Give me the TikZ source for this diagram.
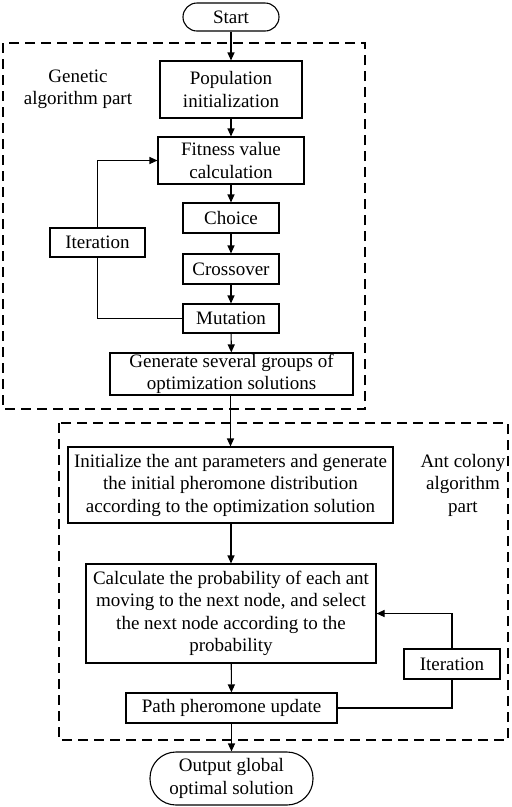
\documentclass[tikz,border=0pt]{standalone}
\usepackage{fontspec}
\setmainfont{Liberation Serif}
\usetikzlibrary{arrows.meta}
\begin{document}
\begin{tikzpicture}[x=1pt,y=-1pt,
  every node/.style={font=\fontsize{19}{22.5}\selectfont},
  box/.style={draw,line width=1.1pt,inner sep=0pt,align=center},
  pill/.style={box},
  frame/.style={draw,line width=1.1pt,dash pattern=on 10pt off 6pt},
  lbl/.style={align=center,inner sep=0pt},
  conn/.style={line width=1.1pt},
  arr/.style={conn,-{Triangle[length=8pt,width=7pt]}}]
\useasboundingbox (0,0) rectangle (512,807);
\draw[frame] (3,43) rectangle (365,409);
\draw[frame] (59,423) rectangle (508,740);
\node[pill,minimum width=96pt,minimum height=28pt,rounded corners=14pt] (start) at (231,17) {Start};
\node[box,minimum width=142pt,minimum height=57pt] (pop) at (231,89.5) {Population\\initialization};
\node[box,minimum width=146pt,minimum height=47pt] (fit) at (231,160.5) {Fitness value\\calculation};
\node[box,minimum width=96pt,minimum height=30pt] (choice) at (231,218) {Choice};
\node[box,minimum width=95pt,minimum height=29pt] (iterA) at (97.5,242.5) {Iteration};
\node[box,minimum width=96pt,minimum height=30pt] (cross) at (231,269) {Crossover};
\node[box,minimum width=96pt,minimum height=29pt] (mut) at (231,318.5) {Mutation};
\node[box,minimum width=243pt,minimum height=42pt] (gen) at (231.5,374) {Generate several groups of\\optimization solutions};
\node[lbl] (ga) at (78,89.5) {Genetic\\algorithm part};
\node[box,minimum width=325pt,minimum height=76pt] (init) at (230.5,485) {Initialize the ant parameters and generate\\the initial pheromone distribution\\according to the optimization solution};
\node[lbl] (ac) at (463,485) {Ant colony\\algorithm\\part};
\node[box,minimum width=290pt,minimum height=99pt] (calc) at (231,613.5) {Calculate the probability of each ant\\moving to the next node, and select\\the next node according to the\\probability};
\node[box,minimum width=211pt,minimum height=30pt] (path) at (231.5,708) {Path pheromone update};
\node[box,minimum width=96pt,minimum height=30pt] (iterB) at (452,664) {Iteration};
\node[pill,minimum width=163pt,minimum height=53pt,rounded corners=26pt] (out) at (231.5,778.5) {Output global\\optimal solution};
\draw[arr] (start) -- (pop);
\draw[arr] (pop) -- (fit);
\draw[arr] (fit) -- (choice);
\draw[arr] (choice) -- (cross);
\draw[arr] (cross) -- (mut);
\draw[arr] (mut) -- (gen);
\draw[conn] (mut.west) -| (iterA.south);
\draw[arr] (iterA.north) |- (fit.west);
\draw[arr] (gen.south -| init.north) -- (init.north);
\draw[arr] (init.south -| calc.north) -- (calc.north);
\draw[arr] (calc) -- (path);
\draw[arr] (path.south -| out.north) -- (out.north);
\draw[conn] (path.east) -| (iterB.south);
\draw[arr] (iterB.north) |- (calc.east);
\end{tikzpicture}
\end{document}
